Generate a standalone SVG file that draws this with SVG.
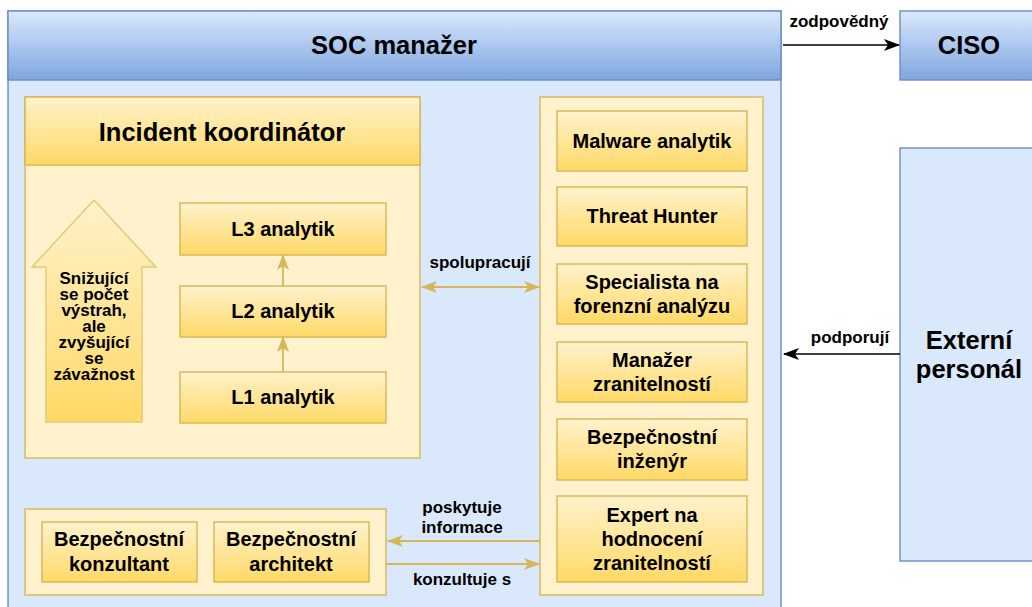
<svg xmlns="http://www.w3.org/2000/svg" width="1032" height="607" viewBox="0 0 1032 607">
  <style>
    text { font-family: "Liberation Sans", Arial, sans-serif; font-weight: bold; fill: #000; text-anchor: middle; }
    .big { font-size: 25.5px; }
    .node { font-size: 20px; }
    .lbl { font-size: 17px; }
    .bluebox { fill: url(#blueGrad); stroke: #6c8ebf; stroke-width: 1.4; }
    .bluebody { fill: #dae8fc; stroke: #6c8ebf; stroke-width: 1.4; }
    .ybox { fill: url(#yellowGrad); stroke: #d6b656; stroke-width: 1.4; }
    .ybody { fill: #fff2cc; stroke: #d6b656; stroke-width: 1.4; }
    .black { stroke: #000; stroke-width: 1.4; fill: none; }
    .gold { stroke: #d6b656; stroke-width: 1.8; fill: none; }
  </style>
  <defs>
    <linearGradient id="blueGrad" x1="0" y1="0" x2="0" y2="1">
      <stop offset="0" stop-color="#dae8fc"/>
      <stop offset="1" stop-color="#7ea6e0"/>
    </linearGradient>
    <linearGradient id="yellowGrad" x1="0" y1="0" x2="0" y2="1">
      <stop offset="0" stop-color="#fff2cc"/>
      <stop offset="1" stop-color="#ffd966"/>
    </linearGradient>
    <marker id="arrowBlack" markerUnits="userSpaceOnUse" markerWidth="16" markerHeight="12" viewBox="0 0 16 12" refX="15" refY="6" orient="auto-start-reverse">
      <path d="M0,0 L16,6 L0,12 L4,6 z" fill="#000"/>
    </marker>
    <marker id="arrowGold" markerUnits="userSpaceOnUse" markerWidth="16" markerHeight="12" viewBox="0 0 16 12" refX="15" refY="6" orient="auto-start-reverse">
      <path d="M0,0 L16,6 L0,12 L4,6 z" fill="#d6b656"/>
    </marker>
  </defs>

  <!-- SOC manager container -->
  <g id="soc-manazer">
    <rect class="bluebody" x="8" y="11" width="773" height="610"/>
    <rect class="bluebox" x="8" y="11" width="773" height="69"/>
    <text class="big" x="394" y="54">SOC manažer</text>
  </g>

  <!-- CISO -->
  <g id="ciso">
    <rect class="bluebox" x="900" y="11" width="140" height="69"/>
    <text class="big" x="969" y="54">CISO</text>
  </g>

  <!-- External staff -->
  <g id="externi-personal">
    <rect class="bluebody" x="900" y="148" width="140" height="413"/>
    <text class="big" x="969" y="349">Externí</text>
    <text class="big" x="969" y="378">personál</text>
  </g>

  <!-- Incident coordinator lane -->
  <g id="incident-koordinator">
    <rect class="ybody" x="25" y="97" width="395" height="361"/>
    <rect class="ybox" x="25" y="97" width="395" height="68"/>
    <text class="big" x="222" y="141">Incident koordinátor</text>
  </g>

  <!-- Escalation arrow -->
  <g id="eskalace">
    <polygon class="ybox" points="94,200 156,267 142,267 142,422 46,422 46,267 32,267" style="stroke:#e3c875"/>
    <text class="lbl" x="94" y="284">Snižující</text>
    <text class="lbl" x="94" y="300">se počet</text>
    <text class="lbl" x="94" y="316">výstrah,</text>
    <text class="lbl" x="94" y="332">ale</text>
    <text class="lbl" x="94" y="348">zvyšující</text>
    <text class="lbl" x="94" y="364">se</text>
    <text class="lbl" x="94" y="380">závažnost</text>
  </g>

  <g id="l3-analytik">
    <rect class="ybox" x="180" y="203" width="206" height="52"/>
    <text class="node" x="283" y="236">L3 analytik</text>
  </g>
  <g id="l2-analytik">
    <rect class="ybox" x="180" y="286" width="206" height="51"/>
    <text class="node" x="283" y="318">L2 analytik</text>
  </g>
  <g id="l1-analytik">
    <rect class="ybox" x="180" y="372" width="206" height="51"/>
    <text class="node" x="283" y="404">L1 analytik</text>
  </g>

  <!-- Specialists container -->
  <g id="specialiste">
    <rect class="ybody" x="540" y="97" width="223" height="498"/>
  </g>
  <g id="malware-analytik">
    <rect class="ybox" x="557" y="111" width="190" height="60"/>
    <text class="node" x="652" y="148">Malware analytik</text>
  </g>
  <g id="threat-hunter">
    <rect class="ybox" x="557" y="187" width="190" height="59"/>
    <text class="node" x="652" y="223">Threat Hunter</text>
  </g>
  <g id="forenzni-specialista">
    <rect class="ybox" x="557" y="264" width="190" height="60"/>
    <text class="node" x="652" y="289">Specialista na</text>
    <text class="node" x="652" y="313">forenzní analýzu</text>
  </g>
  <g id="manazer-zranitelnosti">
    <rect class="ybox" x="557" y="342" width="190" height="60"/>
    <text class="node" x="652" y="367">Manažer</text>
    <text class="node" x="652" y="391">zranitelností</text>
  </g>
  <g id="bezpecnostni-inzenyr">
    <rect class="ybox" x="557" y="419" width="190" height="61"/>
    <text class="node" x="652" y="444">Bezpečnostní</text>
    <text class="node" x="652" y="468">inženýr</text>
  </g>
  <g id="expert-hodnoceni">
    <rect class="ybox" x="557" y="496" width="190" height="86"/>
    <text class="node" x="652" y="522">Expert na</text>
    <text class="node" x="652" y="546">hodnocení</text>
    <text class="node" x="652" y="570">zranitelností</text>
  </g>

  <!-- Consultants container -->
  <g id="konzultanti">
    <rect class="ybody" x="25" y="509" width="361" height="86"/>
  </g>
  <g id="bezpecnostni-konzultant">
    <rect class="ybox" x="42" y="522" width="155" height="60"/>
    <text class="node" x="119" y="546">Bezpečnostní</text>
    <text class="node" x="119" y="571">konzultant</text>
  </g>
  <g id="bezpecnostni-architekt">
    <rect class="ybox" x="214" y="522" width="155" height="60"/>
    <text class="node" x="291" y="546">Bezpečnostní</text>
    <text class="node" x="291" y="571">architekt</text>
  </g>

  <!-- Connectors -->
  <g id="connectors">
    <line class="gold" x1="283" y1="372" x2="283" y2="337" marker-end="url(#arrowGold)"/>
    <line class="gold" x1="283" y1="286" x2="283" y2="255" marker-end="url(#arrowGold)"/>
    <line class="gold" x1="422" y1="287" x2="539" y2="287" marker-start="url(#arrowGold)" marker-end="url(#arrowGold)"/>
    <line class="gold" x1="540" y1="541" x2="388" y2="541" marker-end="url(#arrowGold)"/>
    <line class="gold" x1="386" y1="564" x2="539" y2="564" marker-end="url(#arrowGold)"/>
    <line class="black" x1="783" y1="45" x2="899" y2="45" marker-end="url(#arrowBlack)"/>
    <line class="black" x1="900" y1="354" x2="784" y2="354" marker-end="url(#arrowBlack)"/>
    <text class="lbl" x="480" y="268">spolupracují</text>
    <text class="lbl" x="462" y="513">poskytuje</text>
    <text class="lbl" x="462" y="533">informace</text>
    <text class="lbl" x="462" y="585">konzultuje s</text>
    <text class="lbl" x="839" y="27">zodpovědný</text>
    <text class="lbl" x="850" y="343">podporují</text>
  </g>
</svg>
